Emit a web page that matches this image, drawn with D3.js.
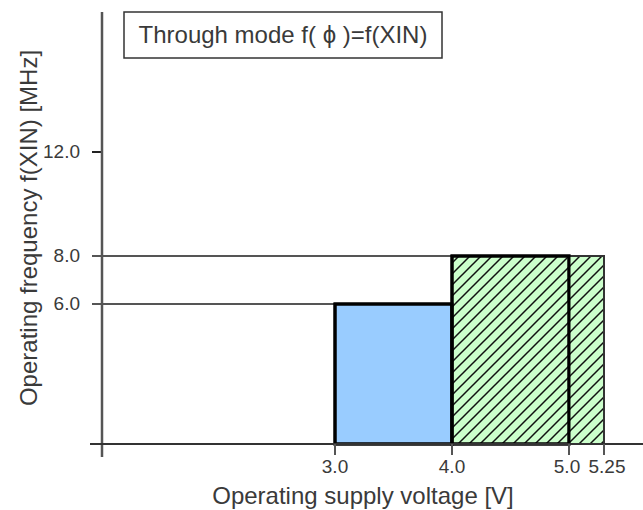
<!DOCTYPE html>
<html>
<head>
<meta charset="utf-8">
<script src="https://cdn.jsdelivr.net/npm/d3@7"></script>
<style>
  body { margin: 0; background: #fff; }
  text { font-family: "Liberation Sans", Arial, sans-serif; fill: #3a3a3a; }
</style>
</head>
<body>
<div id="chart"></div>
<script>
// values
const voltageTicks = [3.0, 4.0, 5.0, 5.25];
const voltageLabels = ['3.0', '4.0', '5.0', '5.25'];
const freqTicks = [6.0, 8.0, 12.0];
const freqLabels = ['6.0', '8.0', '12.0'];
const regionStart = [3.0, 4.0, 5.0];
const regionEnd = [4.0, 5.0, 5.25];
const regionFreq = [6.0, 8.0, 8.0];
const regionKind = ['solid', 'hatch', 'hatch-edge'];

const width = 643, height = 510;

// the drawing is not to scale, so use piecewise scales
const x = d3.scaleLinear()
    .domain([1, 3, 4, 5, 5.25])
    .range([102, 335, 452, 569, 604]);
const y = d3.scaleLinear()
    .domain([0, 6, 8, 12])
    .range([444, 304, 256, 152]);

const svg = d3.select('#chart')
    .append('svg')
    .attr('width', width)
    .attr('height', height);

// hatch pattern
const pat = svg.append('defs')
    .append('pattern')
    .attr('id', 'hatch')
    .attr('patternUnits', 'userSpaceOnUse')
    .attr('width', 11)
    .attr('height', 11);
pat.append('rect')
    .attr('width', 11).attr('height', 11)
    .attr('fill', '#ccffcc');
pat.append('path')
    .attr('d', 'M-1,12 L12,-1 M-3,3 L3,-3 M8,14 L14,8')
    .attr('stroke', '#111')
    .attr('stroke-width', 1.5);

const axisColor = '#555';
const x0 = x(1);

// reference lines at 6.0 and 8.0
svg.append('g')
    .selectAll('line')
    .data(freqTicks.filter(f => f < 12))
    .join('line')
    .attr('x1', x0 - 10)
    .attr('x2', f => f === 8 ? x(4.5) : x(3))
    .attr('y1', d => y(d))
    .attr('y2', d => y(d))
    .attr('stroke', axisColor)
    .attr('stroke-width', 2);

// tick for 12.0
svg.append('line')
    .attr('x1', x0 - 10).attr('x2', x0)
    .attr('y1', y(12)).attr('y2', y(12))
    .attr('stroke', '#222')
    .attr('stroke-width', 2);

// regions
const regions = regionStart.map((s, i) => ({
    s, e: regionEnd[i], f: regionFreq[i], kind: regionKind[i]
}));

svg.append('g')
    .selectAll('rect')
    .data(regions)
    .join('rect')
    .attr('x', d => x(d.s))
    .attr('y', d => y(d.f))
    .attr('width', d => x(d.e) - x(d.s))
    .attr('height', d => y(0) - y(d.f))
    .attr('fill', d => d.kind === 'solid' ? '#99ccff' : 'url(#hatch)')
    .attr('stroke', d => d.kind === 'hatch-edge' ? '#333' : '#000')
    .attr('stroke-width', d => d.kind === 'hatch-edge' ? 2 : 3);

// redraw the heavy outlines on top of the thin edge box
svg.append('g')
    .selectAll('rect')
    .data(regions.filter(d => d.kind !== 'hatch-edge'))
    .join('rect')
    .attr('x', d => x(d.s))
    .attr('y', d => y(d.f))
    .attr('width', d => x(d.e) - x(d.s))
    .attr('height', d => y(0) - y(d.f))
    .attr('fill', 'none')
    .attr('stroke', '#000')
    .attr('stroke-width', 3);

// axes
svg.append('line')
    .attr('x1', x0).attr('x2', x0)
    .attr('y1', 12).attr('y2', y(0) + 13)
    .attr('stroke', axisColor)
    .attr('stroke-width', 2.5);
svg.append('line')
    .attr('x1', x0 - 12).attr('x2', width)
    .attr('y1', y(0)).attr('y2', y(0))
    .attr('stroke', '#333')
    .attr('stroke-width', 2);

// x ticks
svg.append('g')
    .selectAll('line')
    .data(voltageTicks)
    .join('line')
    .attr('x1', d => x(d)).attr('x2', d => x(d))
    .attr('y1', y(0)).attr('y2', y(0) + 11)
    .attr('stroke', axisColor)
    .attr('stroke-width', 2);

svg.append('g')
    .selectAll('text')
    .data(voltageTicks)
    .join('text')
    .attr('x', d => x(d))
    .attr('y', y(0) + 29)
    .attr('text-anchor', 'middle')
    .attr('dx', d => d === 5 ? -2 : (d === 5.25 ? 3 : 0))
    .attr('font-size', 19)
    .text((d, i) => voltageLabels[i]);

// y tick labels
svg.append('g')
    .selectAll('text')
    .data(freqTicks)
    .join('text')
    .attr('x', x0 - 22)
    .attr('y', d => y(d) + 6)
    .attr('text-anchor', 'end')
    .attr('font-size', 19)
    .text((d, i) => freqLabels[i]);

// axis titles
svg.append('text')
    .attr('x', 363)
    .attr('y', 504)
    .attr('text-anchor', 'middle')
    .attr('font-size', 24)
    .text('Operating supply voltage [V]');

svg.append('text')
    .attr('transform', 'translate(37,228) rotate(-90)')
    .attr('text-anchor', 'middle')
    .attr('font-size', 24)
    .text('Operating frequency f(XIN) [MHz]');

// caption box
svg.append('rect')
    .attr('x', 124).attr('y', 12)
    .attr('width', 318).attr('height', 46)
    .attr('fill', '#fff')
    .attr('stroke', '#333')
    .attr('stroke-width', 1.5);
svg.append('text')
    .attr('x', 283)
    .attr('y', 43)
    .attr('text-anchor', 'middle')
    .attr('font-size', 24)
    .text('Through mode f( \u03d5 )=f(XIN)');
</script>
</body>
</html>
